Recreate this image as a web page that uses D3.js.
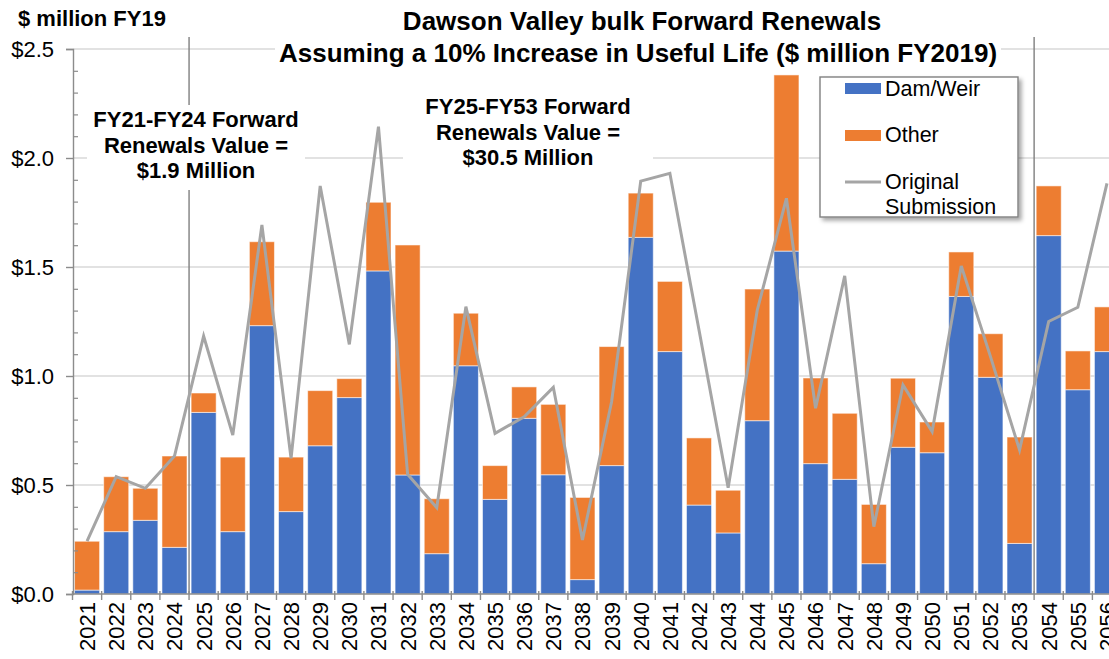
<!DOCTYPE html>
<html>
<head>
<meta charset="utf-8">
<script src="https://cdn.jsdelivr.net/npm/d3@7"></script>
<style>
  html, body { margin: 0; padding: 0; background: #fff; overflow: hidden; }
  svg { display: block; font-family: "Liberation Sans", Arial, sans-serif; }
</style>
</head>
<body>
<svg id="chart" width="1109" height="659"></svg>
<script>
// Financial years shown on the x axis
const years = [
  2021, 2022, 2023, 2024, 2025, 2026, 2027, 2028, 2029, 2030, 2031, 2032,
  2033, 2034, 2035, 2036, 2037, 2038, 2039, 2040, 2041, 2042, 2043, 2044,
  2045, 2046, 2047, 2048, 2049, 2050, 2051, 2052, 2053, 2054, 2055, 2056
];

// Dam/Weir renewals ($ million FY19)
const damWeir = [
  0.018, 0.286, 0.338, 0.214, 0.833, 0.286, 1.231, 0.378, 0.680, 0.901, 1.482, 0.546,
  0.185, 1.047, 0.434, 0.806, 0.547, 0.066, 0.589, 1.636, 1.112, 0.408, 0.280, 0.795,
  1.573, 0.598, 0.526, 0.139, 0.673, 0.648, 1.365, 0.994, 0.232, 1.644, 0.937, 1.112
];

// Other renewals ($ million FY19)
const other = [
  0.224, 0.252, 0.147, 0.419, 0.089, 0.342, 0.385, 0.250, 0.253, 0.087, 0.315, 1.055,
  0.252, 0.241, 0.155, 0.144, 0.323, 0.377, 0.546, 0.203, 0.322, 0.308, 0.196, 0.604,
  0.808, 0.393, 0.303, 0.272, 0.317, 0.141, 0.204, 0.200, 0.488, 0.228, 0.178, 0.205
];

// Original submission profile ($ million FY19)
const originalSubmission = [
  0.243, 0.538, 0.485, 0.633, 1.183, 0.729, 1.693, 0.622, 1.872, 1.145, 2.144, 0.549,
  0.396, 1.318, 0.737, 0.813, 0.948, 0.248, 0.882, 1.894, 1.930, 1.211, 0.487, 1.303,
  1.815, 0.852, 1.459, 0.309, 0.959, 0.745, 1.505, 1.090, 0.661, 1.250, 1.315, 1.884
];

const yTickValues = [0, 0.5, 1.0, 1.5, 2.0, 2.5];
const yTickLabels = ["$0.0", "$0.5", "$1.0", "$1.5", "$2.0", "$2.5"];
const yMinorValues = d3.range(0, 2.51, 0.1).map(v => +v.toFixed(1));

const seriesNames = ["Dam/Weir", "Other", "Original Submission"];
const periodBreaks = [2025, 2054];   // first year of each new renewal period

const colors = { dam: "#4472C4", other: "#ED7D31", line: "#A5A5A5", grid: "#D9D9D9", axis: "#8C8C8C" };

const svg = d3.select("#chart");
const W = 1109;

const x = d3.scaleBand()
  .domain(years)
  .range([72.5, 72.5 + 36 * 29.14])
  .paddingInner(0.14)
  .paddingOuter(0.07);

const y = d3.scaleLinear().domain([0, 2.5]).range([594, 49]);

const step = x.step();
const boundary = yr => x(yr) - step * x.paddingInner() / 2;

// Horizontal gridlines
svg.append("g")
  .selectAll("line")
  .data(yTickValues.filter(v => v > 0))
  .join("line")
  .attr("x1", 73).attr("x2", W)
  .attr("y1", d => y(d)).attr("y2", d => y(d))
  .attr("stroke", colors.grid)
  .attr("stroke-width", 1.6);

// Vertical period separators
svg.append("g")
  .selectAll("line")
  .data(periodBreaks)
  .join("line")
  .attr("x1", d => boundary(d)).attr("x2", d => boundary(d))
  .attr("y1", 37).attr("y2", y(0))
  .attr("stroke", "#7F7F7F")
  .attr("stroke-width", 1.4);

// White backing behind the title and the period annotations
const boxes = [
  { x: 275, y: 36, w: 726, h: 30 },
  { x: 87, y: 105, w: 218, h: 85 },
  { x: 403, y: 90, w: 250, h: 85 }
];
svg.append("g")
  .selectAll("rect")
  .data(boxes)
  .join("rect")
  .attr("x", d => d.x).attr("y", d => d.y)
  .attr("width", d => d.w).attr("height", d => d.h)
  .attr("fill", "#fff");

// Stacked bars
const rows = years.map((yr, i) => ({ year: yr, dam: damWeir[i], other: other[i] }));
const stacked = d3.stack().keys(["dam", "other"])(rows);
const fillFor = { dam: colors.dam, other: colors.other };

svg.append("g")
  .selectAll("g")
  .data(stacked)
  .join("g")
  .attr("fill", d => fillFor[d.key])
  .selectAll("rect")
  .data(d => d)
  .join("rect")
  .attr("x", d => x(d.data.year))
  .attr("width", x.bandwidth())
  .attr("y", d => y(d[1]))
  .attr("height", d => y(d[0]) - y(d[1]))
  .attr("stroke", "rgba(255,255,255,0.55)")
  .attr("stroke-width", 1);

// Original submission line
const line = d3.line()
  .x((d, i) => x(years[i]) + x.bandwidth() / 2)
  .y(d => y(d));

svg.append("path")
  .datum(originalSubmission)
  .attr("d", line)
  .attr("fill", "none")
  .attr("stroke", colors.line)
  .attr("stroke-width", 3);

// Y axis
const yAxis = svg.append("g")
  .attr("transform", "translate(73,0)")
  .call(d3.axisLeft(y).tickValues(yTickValues).tickFormat((d, i) => yTickLabels[i]).tickSize(7).tickPadding(12));
yAxis.select(".domain").attr("stroke", colors.axis).attr("stroke-width", 1.4);
yAxis.selectAll(".tick line").attr("stroke", colors.axis).attr("stroke-width", 1.4);
yAxis.selectAll(".tick text").attr("font-size", 22).attr("fill", "#000")
  .attr("font-family", "'Liberation Sans', Arial, sans-serif");

const yMinor = svg.append("g")
  .attr("transform", "translate(73,0)")
  .call(d3.axisLeft(y).tickValues(yMinorValues.filter(v => !yTickValues.includes(v))).tickSize(-5).tickFormat(""));
yMinor.select(".domain").remove();
yMinor.selectAll(".tick line").attr("stroke", colors.axis).attr("stroke-width", 1.2);

// X axis
const xAxis = svg.append("g")
  .attr("transform", `translate(0,${y(0)})`)
  .call(d3.axisBottom(x).tickSize(0).tickPadding(0));
xAxis.select(".domain").remove();
xAxis.selectAll(".tick text")
  .attr("font-size", 22)
  .attr("fill", "#000")
  .attr("font-family", "'Liberation Sans', Arial, sans-serif")
  .attr("transform", "rotate(-90)")
  .attr("text-anchor", "end")
  .attr("x", -8)
  .attr("y", 0)
  .attr("dy", "0.36em");

svg.append("line")
  .attr("x1", 73).attr("x2", W)
  .attr("y1", y(0)).attr("y2", y(0))
  .attr("stroke", colors.axis).attr("stroke-width", 1.4);

svg.append("g")
  .selectAll("line")
  .data(years.concat([years[years.length - 1] + 1]))
  .join("line")
  .attr("x1", (d, i) => i < years.length ? boundary(d) : boundary(years[years.length - 1]) + step)
  .attr("x2", (d, i) => i < years.length ? boundary(d) : boundary(years[years.length - 1]) + step)
  .attr("y1", y(0) - 3).attr("y2", y(0) + 6)
  .attr("stroke", colors.axis).attr("stroke-width", 1.4);

// Unit label
svg.append("text")
  .attr("x", 18).attr("y", 26)
  .attr("font-size", 22).attr("font-weight", "bold")
  .text("$ million FY19");

// Title
const title = svg.append("text")
  .attr("text-anchor", "middle")
  .attr("font-size", 26)
  .attr("font-weight", "bold");
title.append("tspan").attr("x", 642).attr("y", 30).text("Dawson Valley bulk Forward Renewals");
title.append("tspan").attr("x", 638).attr("y", 62).text("Assuming a 10% Increase in Useful Life ($ million FY2019)");

// Period annotations
const notes = [
  { cx: 196, y0: 127, lines: ["FY21-FY24 Forward", "Renewals Value =", "$1.9 Million"] },
  { cx: 528, y0: 114, lines: ["FY25-FY53 Forward", "Renewals Value =", "$30.5 Million"] }
];
notes.forEach(n => {
  const t = svg.append("text")
    .attr("text-anchor", "middle")
    .attr("font-size", 22)
    .attr("font-weight", "bold");
  n.lines.forEach((s, i) => t.append("tspan").attr("x", n.cx).attr("y", n.y0 + i * 25.5).text(s));
});

// Legend
const defs = svg.append("defs");
const f = defs.append("filter").attr("id", "shadow").attr("x", "-10%").attr("y", "-10%").attr("width", "130%").attr("height", "130%");
f.append("feDropShadow").attr("dx", 3).attr("dy", 3).attr("stdDeviation", 2)
  .attr("flood-color", "#000").attr("flood-opacity", 0.35);

const legend = svg.append("g").attr("transform", "translate(820,77)");
legend.append("rect")
  .attr("width", 198).attr("height", 140)
  .attr("fill", "#fff")
  .attr("stroke", "#808080").attr("stroke-width", 1.4)
  .attr("filter", "url(#shadow)");

legend.append("rect").attr("x", 25).attr("y", 6).attr("width", 36).attr("height", 11).attr("fill", colors.dam);
legend.append("text").attr("x", 65).attr("y", 19).attr("font-size", 21.5).text(seriesNames[0]);

legend.append("rect").attr("x", 25).attr("y", 53).attr("width", 36).attr("height", 11).attr("fill", colors.other);
legend.append("text").attr("x", 65).attr("y", 65).attr("font-size", 21.5).text(seriesNames[1]);

legend.append("line").attr("x1", 25).attr("x2", 61).attr("y1", 105).attr("y2", 105)
  .attr("stroke", colors.line).attr("stroke-width", 3);
const lt = legend.append("text").attr("font-size", 21.5);
lt.append("tspan").attr("x", 65).attr("y", 112).text("Original");
lt.append("tspan").attr("x", 65).attr("y", 137).text("Submission");
</script>
</body>
</html>
